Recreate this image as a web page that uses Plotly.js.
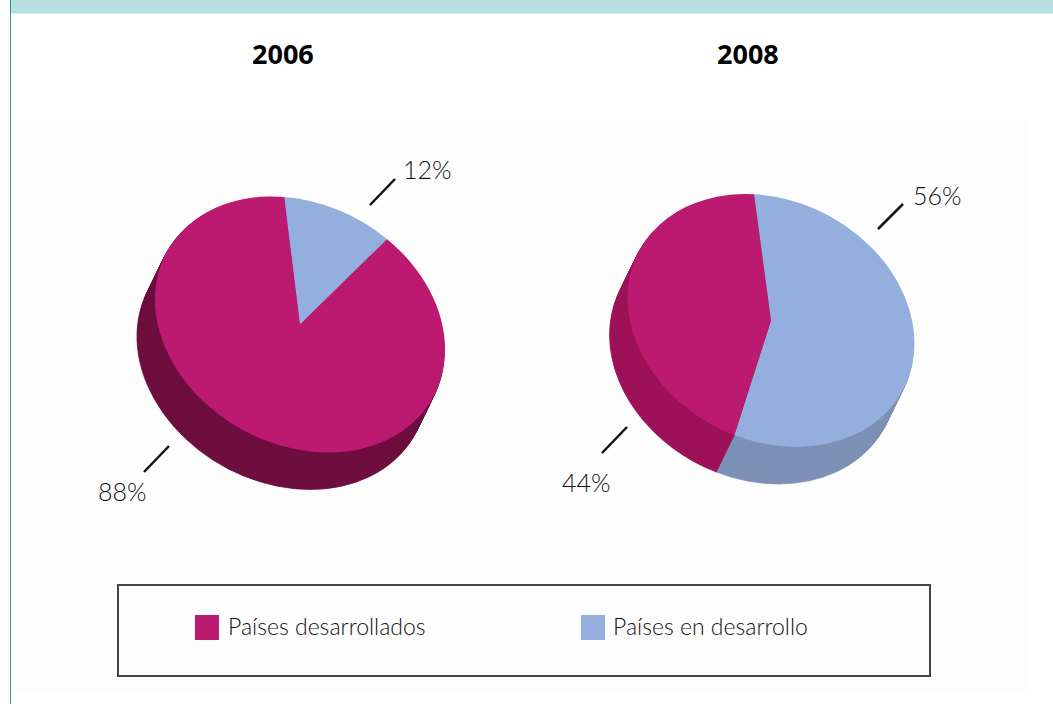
<!DOCTYPE html>
<html>
<head>
<meta charset="utf-8">
<script src="https://cdn.plot.ly/plotly-3.0.1.min.js"></script>
<style>html,body{margin:0;padding:0;background:#fff}#chart{width:1053px;height:704px}</style>
</head>
<body>
<div id="chart"></div>
<script>
const categories = ["Países en desarrollo", "Países desarrollados"];
const years = ["2006", "2008"];
const values2006 = [12, 88];
const values2008 = [56, 44];

const topColors = ["#94aedd", "#bc1a70"];
const sideColors2006 = ["#7d90b5", "#6e0e3f"];
const sideColors2008 = ["#7d90b5", "#9d1159"];

const W = 1053, H = 704;
const px = x => x / W;
const py = y => 1 - y / H;

// Placement of each tilted pie on the page
const pies = [
  {values: values2006, side: sideColors2006, rot: -1, cx: 300, cy: 324.5, m: [144.4, 13.3, 13.3, 127.3]},
  {values: values2008, side: sideColors2008, rot: -2, cx: 771, cy: 320.5, m: [142.9, 12.0, 12.0, 125.9]}
];
const depth = {dx: -18, dy: 37, layers: 24};

const traces = [];
const placements = [];
pies.forEach((p, n) => {
  for (let k = depth.layers; k >= 0; k--) {
    const isTop = k === 0;
    const col = isTop ? topColors : p.side;
    traces.push({
      type: "pie",
      labels: categories,
      values: p.values,
      sort: false,
      direction: "clockwise",
      rotation: p.rot,
      textinfo: "none",
      hoverinfo: isTop ? "label+percent" : "skip",
      showlegend: false,
      domain: {x: [1/3, 2/3], y: [0.25, 0.75]},
      marker: {colors: col, line: {width: isTop ? 0 : 1, color: col}}
    });
    placements.push({
      tx: p.cx + depth.dx * k / depth.layers,
      ty: p.cy + depth.dy * k / depth.layers,
      m: p.m
    });
  }
});

const labelFont = {family: "Lato, 'Open Sans', sans-serif", size: 25, color: "#111", weight: 300};
const legendFont = {family: "Lato, 'Open Sans', sans-serif", size: 23, color: "#111", weight: 300};
const titleFont = {family: "'Noto Sans', sans-serif", size: 27, color: "#000", weight: 700};

const note = (x, y, text, font, xanchor) => ({
  xref: "paper", yref: "paper", x: px(x), y: py(y), text, font,
  showarrow: false, xanchor: xanchor || "center", yanchor: "middle"
});
const line = (x0, y0, x1, y1) => ({
  type: "line", xref: "paper", yref: "paper", layer: "above",
  x0: px(x0), y0: py(y0), x1: px(x1), y1: py(y1),
  line: {color: "#111", width: 2.5}
});
const rect = (x0, y0, x1, y1, fill, lineSpec) => ({
  type: "rect", xref: "paper", yref: "paper", layer: "below",
  x0: px(x0), y0: py(y0), x1: px(x1), y1: py(y1),
  fillcolor: fill, line: lineSpec || {width: 0}
});

const layout = {
  width: W, height: H,
  margin: {l: 0, r: 0, t: 0, b: 0},
  paper_bgcolor: "#ffffff",
  showlegend: false,
  shapes: [
    rect(14, 120, 1029, 694, "#fdfdfd"),
    rect(10, 0, 1053, 13.5, "#b6dfe3"),
    rect(10, 0, 11, 704, "#1f9ea8"),
    rect(118, 585, 930, 676, "#fdfdfd", {color: "#444", width: 2}),
    rect(195, 615, 219, 640, topColors[1]),
    rect(581, 615, 605, 640, topColors[0]),
    line(370, 205, 395, 179),
    line(169, 446, 144, 472),
    line(878, 229, 903, 204),
    line(627, 427, 602, 453)
  ],
  annotations: [
    note(283, 54, years[0], titleFont),
    note(748, 54, years[1], titleFont),
    note(427, 169.5, values2006[0] + "%", labelFont),
    note(122, 491, values2006[1] + "%", labelFont),
    note(937, 195, values2008[0] + "%", labelFont),
    note(586, 482, values2008[1] + "%", labelFont),
    note(226, 626, categories[1], legendFont, "left"),
    note(611, 626, categories[0], legendFont, "left")
  ]
};

const gd = document.getElementById("chart");
Plotly.newPlot(gd, traces, layout, {displayModeBar: false, responsive: false}).then(() => {
  // Tilt every drawn pie into the ellipse of the reference
  const groups = gd.querySelectorAll(".pielayer .trace");
  groups.forEach((g, i) => {
    const c = gd.calcdata[i][0];
    const p = placements[i];
    const a = p.m[0] / c.r, b = p.m[1] / c.r, cc = p.m[2] / c.r, d = p.m[3] / c.r;
    const e = p.tx - (a * c.cx + cc * c.cy);
    const f = p.ty - (b * c.cx + d * c.cy);
    g.setAttribute("transform", `matrix(${a} ${b} ${cc} ${d} ${e} ${f})`);
  });
});
</script>
</body>
</html>
